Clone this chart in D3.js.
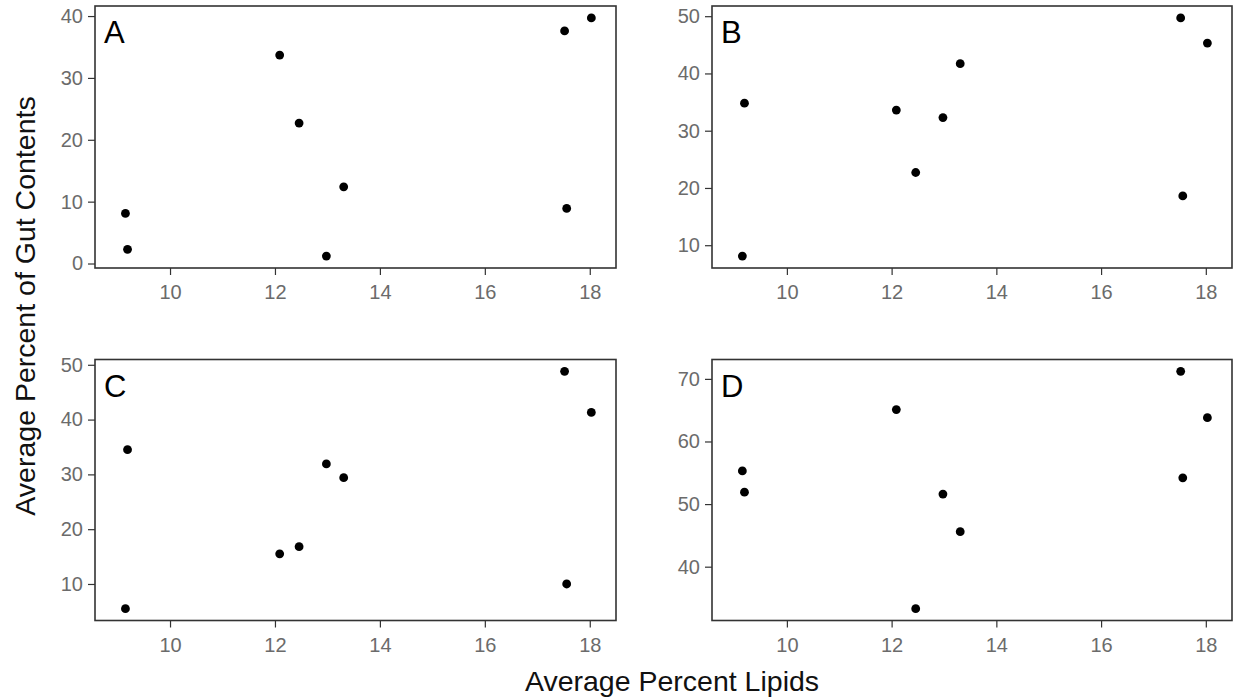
<!DOCTYPE html>
<html>
<head>
<meta charset="utf-8">
<script src="https://cdn.jsdelivr.net/npm/d3@7"></script>
<style>
  html, body { margin: 0; padding: 0; background: #fff; }
  svg { display: block; font-family: "Liberation Sans", Arial, sans-serif; }
</style>
</head>
<body>
<svg id="chart" width="1235" height="700"></svg>
<script>
// ---- data ----
const lipids = [9.15, 9.19, 12.09, 12.46, 12.98, 13.31, 17.52, 17.56, 18.03];
const panelLabels = ["A", "B", "C", "D"];
const gutA = [8.1, 2.3, 33.7, 22.7, 1.2, 12.4, 37.6, 8.9, 39.7];
const gutB = [8.1, 34.8, 33.6, 22.7, 32.3, 41.7, 49.7, 18.6, 45.3];
const gutC = [5.5, 34.5, 15.5, 16.8, 31.9, 29.4, 48.8, 10.0, 41.3];
const gutD = [55.3, 51.9, 65.1, 33.3, 51.6, 45.6, 71.2, 54.2, 63.8];
const xTicks = [10, 12, 14, 16, 18];
const yTicksA = [0, 10, 20, 30, 40];
const yTicksB = [10, 20, 30, 40, 50];
const yTicksC = [10, 20, 30, 40, 50];
const yTicksD = [40, 50, 60, 70];
const xTitle = "Average Percent Lipids";
const yTitle = "Average Percent of Gut Contents";

// ---- layout ----
const svg = d3.select("#chart");
const cols = [[95, 616], [712, 1232]];
const rows = [[6, 268], [359.5, 620.5]];
const xDomain = [8.57, 18.5];
const panels = [
  { label: panelLabels[0], y: gutA, ticks: yTicksA, c: 0, r: 0 },
  { label: panelLabels[1], y: gutB, ticks: yTicksB, c: 1, r: 0 },
  { label: panelLabels[2], y: gutC, ticks: yTicksC, c: 0, r: 1 },
  { label: panelLabels[3], y: gutD, ticks: yTicksD, c: 1, r: 1 }
];

const tickColor = "#333";
const labelColor = "#6b6b6b";

panels.forEach(p => {
  const [x0, x1] = cols[p.c];
  const [y0, y1] = rows[p.r];
  const x = d3.scaleLinear().domain(xDomain).range([x0, x1]);
  const ext = d3.extent(p.y);
  const pad = (ext[1] - ext[0]) * 0.05;
  const y = d3.scaleLinear().domain([ext[0] - pad, ext[1] + pad]).range([y1, y0]);

  const g = svg.append("g");

  const xa = g.append("g")
    .attr("transform", `translate(0,${y1})`)
    .call(d3.axisBottom(x).tickValues(xTicks).tickSize(7).tickPadding(10).tickFormat(d3.format("d")));
  const ya = g.append("g")
    .attr("transform", `translate(${x0},0)`)
    .call(d3.axisLeft(y).tickValues(p.ticks).tickSize(7).tickPadding(5).tickFormat(d3.format("d")));
  [xa, ya].forEach(a => {
    a.select(".domain").remove();
    a.selectAll(".tick line").attr("stroke", tickColor).attr("stroke-width", 1.2);
    a.selectAll(".tick text").attr("fill", labelColor).attr("font-size", 20);
  });

  g.append("rect")
    .attr("x", x0).attr("y", y0)
    .attr("width", x1 - x0).attr("height", y1 - y0)
    .attr("fill", "none").attr("stroke", "#333").attr("stroke-width", 1.6);

  g.selectAll("circle")
    .data(lipids.map((l, i) => ({ l, v: p.y[i] })))
    .join("circle")
    .attr("cx", d => x(d.l))
    .attr("cy", d => y(d.v))
    .attr("r", 4.4)
    .attr("fill", "#000");

  g.append("text")
    .attr("x", x0 + 9).attr("y", y0 + 37)
    .attr("font-size", 31)
    .attr("fill", "#000")
    .text(p.label);
});

svg.append("text")
  .attr("x", 672).attr("y", 691)
  .attr("text-anchor", "middle")
  .attr("font-size", 28.5)
  .attr("fill", "#111")
  .text(xTitle);

svg.append("text")
  .attr("transform", "translate(35,306) rotate(-90)")
  .attr("text-anchor", "middle")
  .attr("font-size", 28.5)
  .attr("fill", "#111")
  .text(yTitle);
</script>
</body>
</html>
